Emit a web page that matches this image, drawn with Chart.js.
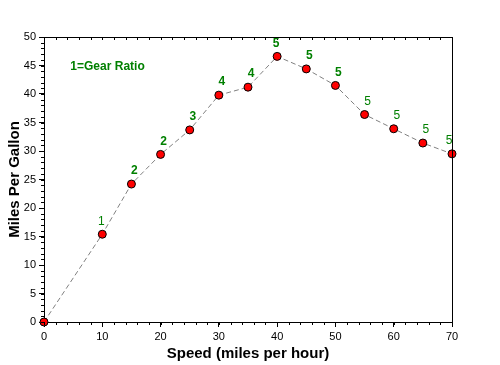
<!DOCTYPE html>
<html>
<head>
<meta charset="utf-8">
<script src="https://cdn.jsdelivr.net/npm/chart.js@4"></script>
<style>
  html, body { margin: 0; padding: 0; background: #fff; }
  #wrap { width: 500px; height: 365px; }
</style>
</head>
<body>
<div id="wrap"><canvas id="chart" width="500" height="365"></canvas></div>
<script>
// vitesse (mph) et consommation (mpg)
const speeds = [0, 10, 15, 20, 25, 30, 35, 40, 45, 50, 55, 60, 65, 70];
const mpg = [0, 15.4, 24.2, 29.4, 33.7, 39.8, 41.2, 46.6, 44.4, 41.5, 36.4, 33.9, 31.4, 29.5];
// rapport de boite affiche au-dessus de chaque point
const gears = ['', '1', '2', '2', '3', '4', '4', '5', '5', '5', '5', '5', '5', '5'];
const gearBold = [false, false, true, true, true, true, true, true, true, true, false, false, false, false];
const xTicks = [0, 10, 20, 30, 40, 50, 60, 70];
const yTicks = [0, 5, 10, 15, 20, 25, 30, 35, 40, 45, 50];

const green = '#008000';

// Cadre, petites graduations et etiquettes de rapport
const decorPlugin = {
    id: 'decor',
    afterDraw(chart) {
        const ctx = chart.ctx;
        const area = chart.chartArea;
        const xs = chart.scales.x;
        const ys = chart.scales.y;
        ctx.save();
        ctx.strokeStyle = '#000';
        ctx.lineWidth = 1;
        // cadre haut et droit
        ctx.beginPath();
        ctx.moveTo(Math.round(area.left) + 0.5, Math.round(area.top) + 0.5);
        ctx.lineTo(Math.round(area.right) + 0.5, Math.round(area.top) + 0.5);
        ctx.lineTo(Math.round(area.right) + 0.5, Math.round(area.bottom) + 0.5);
        ctx.stroke();
        // graduations mineures
        ctx.beginPath();
        for (let v = 0; v <= 70; v += 2) {
            const px = Math.round(xs.getPixelForValue(v)) + 0.5;
            ctx.moveTo(px, area.bottom);
            ctx.lineTo(px, area.bottom + 3);
            ctx.moveTo(px, area.top);
            ctx.lineTo(px, area.top + 3);
        }
        for (let v = 0; v <= 50; v += 1) {
            const py = Math.round(ys.getPixelForValue(v)) + 0.5;
            ctx.moveTo(area.left, py);
            ctx.lineTo(area.left - 3, py);
        }
        ctx.stroke();
        // legende "1=Gear Ratio"
        ctx.fillStyle = green;
        ctx.font = 'bold 12px Arial, "Liberation Sans", sans-serif';
        ctx.textAlign = 'center';
        ctx.textBaseline = 'middle';
        ctx.fillText('1=Gear Ratio', xs.getPixelForValue(10.9), ys.getPixelForValue(44.8));
        // etiquettes de rapport
        const meta = chart.getDatasetMeta(0);
        meta.data.forEach((pt, i) => {
            if (!gears[i]) return;
            ctx.font = (gearBold[i] ? 'bold ' : '') + '12px Arial, "Liberation Sans", sans-serif';
            let dx = 3;
            if (i === speeds.length - 1) dx = -3;
            if (i === 1 || i === 7) dx = -1;
            ctx.fillText(gears[i], pt.x + dx, pt.y - 13);
        });
        ctx.restore();
    }
};

const ctx = document.getElementById('chart').getContext('2d');
new Chart(ctx, {
    type: 'scatter',
    data: {
        datasets: [{
            data: speeds.map((s, i) => ({ x: s, y: mpg[i] })),
            showLine: true,
            borderColor: '#808080',
            borderWidth: 1,
            borderDash: [5, 3],
            pointBackgroundColor: '#ff0000',
            pointBorderColor: '#000',
            pointBorderWidth: 1,
            pointRadius: 4,
            clip: false
        }]
    },
    options: {
        responsive: false,
        animation: false,
        layout: { padding: { top: 37, right: 48, left: 0, bottom: 0 } },
        plugins: {
            legend: { display: false },
            tooltip: { enabled: false }
        },
        scales: {
            x: {
                type: 'linear',
                min: 0,
                max: 70,
                afterBuildTicks: scale => { scale.ticks = xTicks.map(v => ({ value: v })); },
                afterFit: scale => { scale.height = 43; },
                grid: { drawOnChartArea: false, tickLength: 5, color: '#000' },
                border: { color: '#000', width: 1 },
                ticks: {
                    color: '#000',
                    padding: 3,
                    maxRotation: 0,
                    font: { family: 'Arial, "Liberation Sans", sans-serif', size: 11 }
                },
                title: {
                    display: true,
                    text: 'Speed (miles per hour)',
                    color: '#000',
                    padding: { top: 0, bottom: 2 },
                    font: { family: 'Arial, "Liberation Sans", sans-serif', size: 15, weight: 'bold' }
                }
            },
            y: {
                type: 'linear',
                min: 0,
                max: 50,
                afterBuildTicks: scale => { scale.ticks = yTicks.map(v => ({ value: v })); },
                afterFit: scale => { scale.width = 44; },
                grid: { drawOnChartArea: false, tickLength: 5, color: '#000' },
                border: { color: '#000', width: 1 },
                ticks: {
                    color: '#000',
                    padding: 3,
                    font: { family: 'Arial, "Liberation Sans", sans-serif', size: 11 }
                },
                title: {
                    display: true,
                    text: 'Miles Per Gallon',
                    color: '#000',
                    padding: { top: 6, bottom: 0 },
                    font: { family: 'Arial, "Liberation Sans", sans-serif', size: 15, weight: 'bold' }
                }
            }
        }
    },
    plugins: [decorPlugin]
});
</script>
</body>
</html>
